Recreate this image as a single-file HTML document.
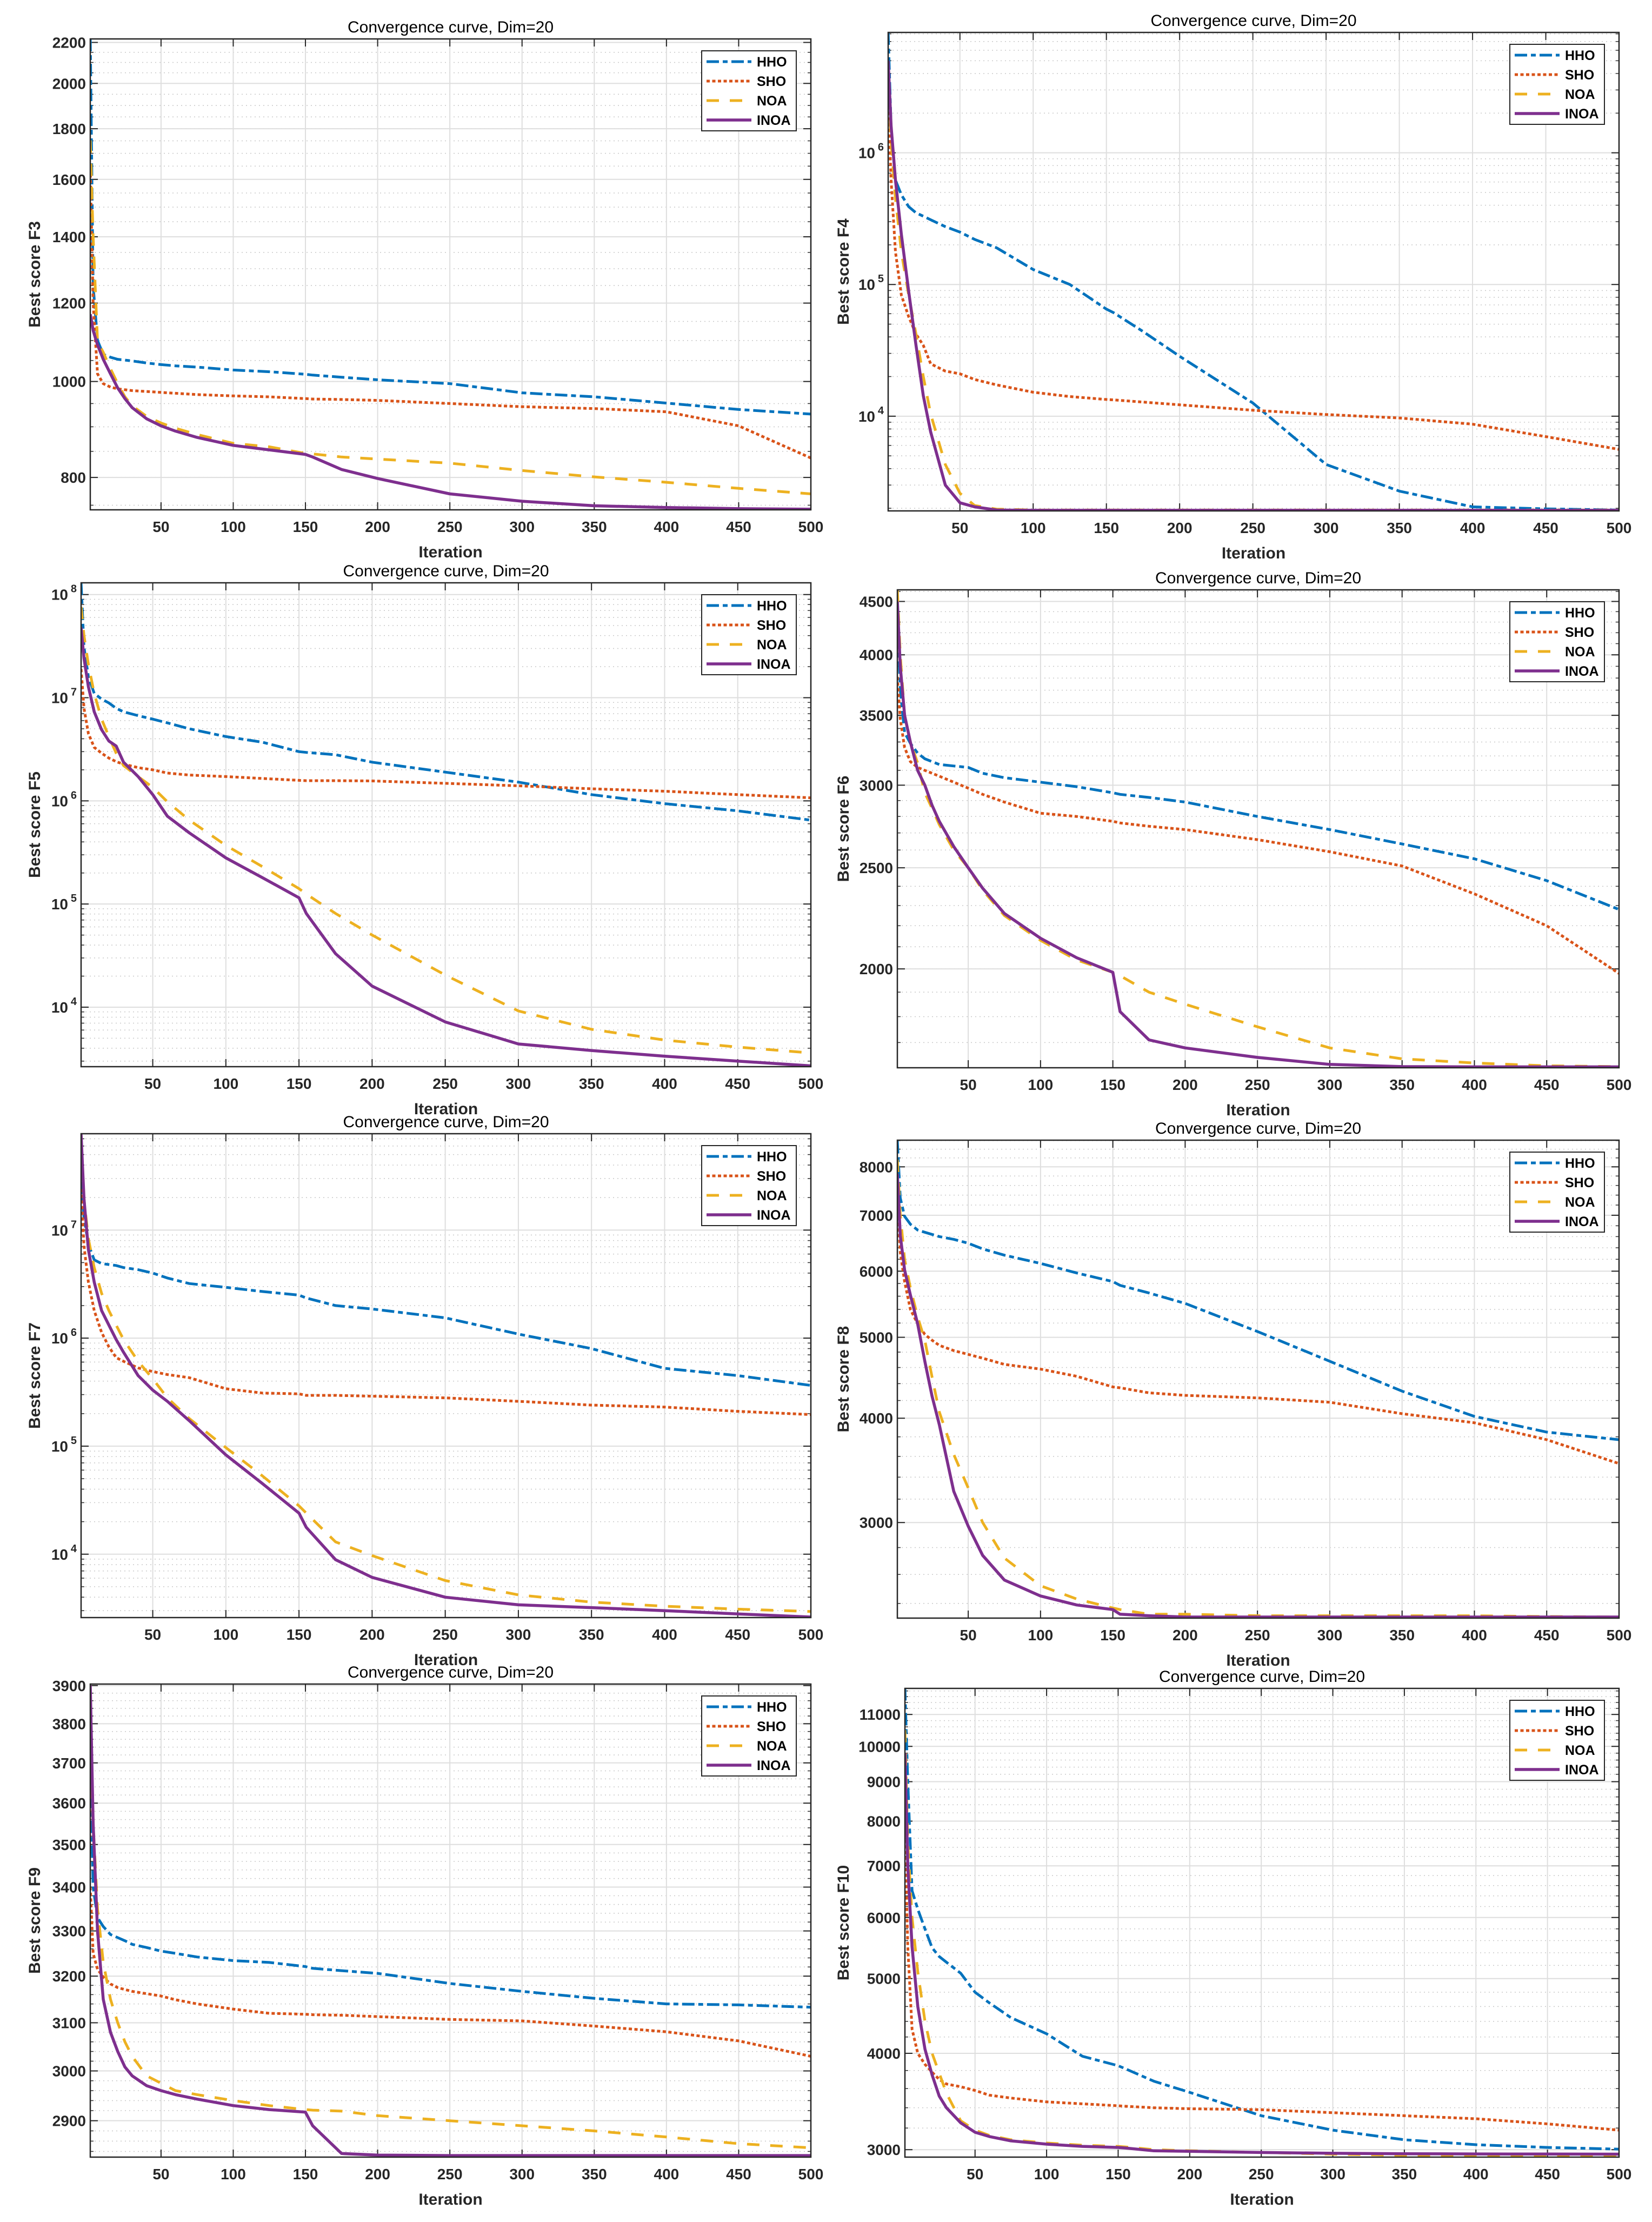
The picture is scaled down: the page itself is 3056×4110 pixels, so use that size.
<!DOCTYPE html>
<html><head><meta charset="utf-8">
<style>
html,body{margin:0;padding:0;background:#fff;}
svg{display:block;}
text{font-family:"Liberation Sans",Arial,sans-serif;}
</style></head>
<body>
<svg id="fig" xmlns="http://www.w3.org/2000/svg" width="3056" height="4110" viewBox="0 0 3056 4110"></svg>
<script>
// shared iteration grid
const iters = [1,3,6,10,15,20,25,30,40,50,60,75,100,125,150,155,175,200,250,300,350,400,450,500];
const seriesNames = ["HHO","SHO","NOA","INOA"];

// F3
const f3_hho = [2218,1250,1100,1065,1058,1053,1051,1049,1044,1040,1037,1034,1027,1023,1017,1015,1010,1004,995,974,965,951,937,927];
const f3_sho = [1640,1200,1018,995,987,983,981,979,977,975,973,970,967,965,961,960,959,957,950,943,939,932,902,837];
const f3_noa = [1752,1400,1098,1070,1030,995,965,945,922,908,897,884,866,859,846,845,839,835,827,813,801,791,780,770];
const f3_inoa = [1169,1126,1089,1053,1018,985,961,941,917,902,891,878,862,853,844,839,815,798,770,757,749,746,744,743];
const f3_ticks = [800,1000,1200,1400,1600,1800,2000,2200];
// F4
const f4_hho = [8.2e6,1.6e6,6.2e5,4.8e5,3.9e5,3.5e5,3.3e5,3.1e5,2.75e5,2.5e5,2.2e5,1.9e5,1.3e5,1.0e5,6.5e4,6.1e4,4.4e4,2.85e4,1.26e4,4.3e3,2.7e3,2.05e3,1.98e3,1.94e3];
const f4_sho = [2.5e6,6.2e5,1.77e5,8.3e4,5.7e4,4.2e4,3.45e4,2.5e4,2.2e4,2.1e4,1.9e4,1.73e4,1.52e4,1.41e4,1.34e4,1.33e4,1.28e4,1.22e4,1.11e4,1.03e4,9.7e3,8.7e3,7.0e3,5.6e3];
const f4_noa = [4e6,1.2e6,4.5e5,1.77e5,8.3e4,4.2e4,2.0e4,1.04e4,4.3e3,2.6e3,2.1e3,1.97e3,1.94e3,1.94e3,1.94e3,1.94e3,1.94e3,1.94e3,1.94e3,1.94e3,1.94e3,1.94e3,1.94e3,1.94e3];
const f4_inoa = [5e6,1.6e6,6.2e5,2.4e5,8.9e4,3.45e4,1.43e4,7.6e3,3.0e3,2.2e3,2.05e3,1.94e3,1.93e3,1.93e3,1.93e3,1.93e3,1.93e3,1.93e3,1.93e3,1.93e3,1.93e3,1.93e3,1.93e3,1.93e3];
const f4_ticks = [4,5,6];
// F5
const f5_hho = [1.3e8,3.1e7,1.6e7,1.1e7,9.7e6,8.9e6,7.9e6,7.3e6,6.7e6,6.2e6,5.7e6,5.0e6,4.2e6,3.7e6,3.0e6,2.95e6,2.8e6,2.37e6,1.9e6,1.52e6,1.15e6,9.4e5,8.0e5,6.5e5];
const f5_sho = [1.9e7,7.9e6,4.5e6,3.3e6,2.9e6,2.6e6,2.4e6,2.27e6,2.1e6,2.0e6,1.86e6,1.78e6,1.72e6,1.65e6,1.58e6,1.57e6,1.57e6,1.56e6,1.48e6,1.40e6,1.31e6,1.24e6,1.15e6,1.07e6];
const f5_noa = [7.6e7,4e7,2.1e7,1.1e7,6.2e6,4.2e6,2.9e6,2.2e6,1.72e6,1.35e6,9.8e5,6.5e5,3.7e5,2.3e5,1.41e5,1.25e5,8.1e4,5.0e4,2.05e4,9.2e3,6.1e3,4.8e3,4.1e3,3.6e3];
const f5_inoa = [4.8e7,2.4e7,1.28e7,7.3e6,4.9e6,3.8e6,3.4e6,2.37e6,1.72e6,1.15e6,7.1e5,4.9e5,2.8e5,1.8e5,1.15e5,8.1e4,3.3e4,1.6e4,7.2e3,4.4e3,3.8e3,3.35e3,3.0e3,2.7e3];
const f5_ticks = [4,5,6,7,8];
// F6
const f6_hho = [4400,3700,3370,3290,3220,3180,3160,3140,3130,3120,3080,3050,3020,2990,2950,2940,2920,2890,2800,2720,2635,2550,2430,2280];
const f6_sho = [3810,3470,3260,3160,3120,3100,3080,3060,3020,2980,2940,2890,2820,2800,2770,2760,2740,2720,2660,2590,2510,2360,2200,1980];
const f6_noa = [4620,4000,3500,3300,3150,2950,2850,2750,2600,2500,2380,2250,2130,2040,1985,1970,1900,1850,1760,1680,1640,1625,1615,1612];
const f6_inoa = [4500,3900,3500,3300,3100,3000,2870,2770,2620,2500,2390,2260,2140,2050,1985,1820,1710,1680,1645,1620,1612,1611,1611,1611];
const f6_ticks = [2000,2500,3000,3500,4000,4500];
// F7
const f7_hho = [2.8e7,1.3e7,7.4e6,5.3e6,4.9e6,4.8e6,4.7e6,4.5e6,4.3e6,4.0e6,3.6e6,3.2e6,2.95e6,2.7e6,2.5e6,2.35e6,2.0e6,1.86e6,1.54e6,1.09e6,8.0e5,5.25e5,4.5e5,3.65e5];
const f7_sho = [2.4e7,7.1e6,3.3e6,1.8e6,1.13e6,8.3e5,6.6e5,6.1e5,5.3e5,4.9e5,4.6e5,4.3e5,3.4e5,3.1e5,3.05e5,2.95e5,2.95e5,2.9e5,2.8e5,2.6e5,2.4e5,2.3e5,2.1e5,1.96e5];
const f7_noa = [6.1e7,1.94e7,8.3e6,4.5e6,2.6e6,1.8e6,1.32e6,9.7e5,6.1e5,4.2e5,2.8e5,1.8e5,9.7e4,5.3e4,2.8e4,2.4e4,1.3e4,9.7e3,5.7e3,4.2e3,3.6e3,3.3e3,3.1e3,2.95e3];
const f7_inoa = [7.7e7,1.94e7,6.6e6,3.3e6,1.8e6,1.32e6,9.7e5,7.4e5,4.5e5,3.3e5,2.6e5,1.72e5,8.3e4,4.5e4,2.4e4,1.77e4,8.9e3,6.1e3,4.0e3,3.4e3,3.2e3,3.0e3,2.8e3,2.62e3];
const f7_ticks = [4,5,6,7];
// F8
const f8_hho = [8590,7340,6980,6830,6720,6680,6640,6600,6550,6480,6380,6270,6130,5970,5830,5770,5650,5490,5080,4680,4310,4020,3850,3770];
const f8_sho = [7300,6320,5830,5400,5190,5040,4960,4890,4820,4770,4720,4640,4580,4490,4360,4350,4290,4260,4230,4180,4050,3950,3770,3530];
const f8_noa = [8160,7010,6200,5730,5290,4960,4480,4070,3620,3300,3000,2720,2520,2430,2370,2360,2330,2330,2320,2320,2320,2320,2315,2312];
const f8_inoa = [7850,6620,6020,5620,5190,4680,4250,3930,3270,2970,2740,2560,2450,2390,2360,2330,2320,2312,2312,2312,2312,2312,2312,2312];
const f8_ticks = [3000,4000,5000,6000,7000,8000];
// F9
const f9_hho = [3680,3400,3330,3310,3292,3285,3278,3270,3263,3255,3250,3242,3234,3230,3221,3217,3212,3206,3184,3167,3152,3140,3138,3133];
const f9_sho = [3400,3250,3215,3198,3183,3175,3171,3167,3162,3157,3149,3140,3129,3120,3118,3117,3116,3113,3107,3104,3093,3081,3062,3030];
const f9_noa = [3700,3550,3350,3230,3150,3100,3060,3030,2990,2975,2960,2952,2940,2930,2922,2921,2919,2910,2900,2890,2880,2868,2855,2847];
const f9_inoa = [3900,3550,3300,3150,3080,3040,3008,2990,2970,2960,2952,2943,2930,2922,2917,2890,2836,2833,2832,2832,2832,2832,2832,2832];
const f9_ticks = [2900,3000,3100,3200,3300,3400,3500,3600,3700,3800,3900];
// F10
const f10_hho = [11900,9000,6500,6150,5800,5480,5340,5250,5080,4800,4650,4450,4240,3965,3855,3820,3680,3560,3320,3180,3090,3045,3020,3005];
const f10_sho = [7700,5500,4300,4000,3870,3780,3700,3650,3620,3580,3530,3500,3460,3440,3420,3415,3400,3390,3380,3350,3320,3290,3240,3180];
const f10_noa = [10500,7500,6000,5100,4400,4000,3770,3550,3270,3180,3130,3090,3060,3040,3030,3025,3000,2990,2975,2960,2950,2945,2940,2937];
const f10_inoa = [9800,7000,5500,4600,4050,3750,3520,3400,3250,3160,3120,3080,3050,3030,3020,3015,2990,2985,2975,2968,2964,2962,2961,2960];
const f10_ticks = [3000,4000,5000,6000,7000,8000,9000,10000,11000];

const xTicks = [50,100,150,200,250,300,350,400,450,500];
const colors = {HHO:"#0072BD",SHO:"#D95319",NOA:"#EDB120",INOA:"#7E2F8E"};
const dashes = {HHO:"23 7 9 7",SHO:"6 4.5",NOA:"23 20",INOA:""};

const panels = [
 {id:"f3",label:"Best score F3",L:167,R:1500,T:72,B:943,ymin:742,ymax:2218,ticks:f3_ticks,dec:false,minor:50,data:[f3_hho,f3_sho,f3_noa,f3_inoa],ylx:64},
 {id:"f4",label:"Best score F4",L:1643,R:2995,T:60,B:945,ymin:1910,ymax:8.2e6,ticks:f4_ticks,dec:true,data:[f4_hho,f4_sho,f4_noa,f4_inoa],ylx:1560},
 {id:"f5",label:"Best score F5",L:150,R:1500,T:1078,B:1973,ymin:2650,ymax:1.3e8,ticks:f5_ticks,dec:true,data:[f5_hho,f5_sho,f5_noa,f5_inoa],ylx:64},
 {id:"f6",label:"Best score F6",L:1660,R:2995,T:1091,B:1975,ymin:1608,ymax:4617,ticks:f6_ticks,dec:false,minor:100,data:[f6_hho,f6_sho,f6_noa,f6_inoa],ylx:1560},
 {id:"f7",label:"Best score F7",L:150,R:1500,T:2097,B:2992,ymin:2590,ymax:7.8e7,ticks:f7_ticks,dec:true,data:[f7_hho,f7_sho,f7_noa,f7_inoa],ylx:64},
 {id:"f8",label:"Best score F8",L:1660,R:2995,T:2109,B:2993,ymin:2305,ymax:8610,ticks:f8_ticks,dec:false,minor:200,data:[f8_hho,f8_sho,f8_noa,f8_inoa],ylx:1560},
 {id:"f9",label:"Best score F9",L:167,R:1500,T:3115,B:3990,ymin:2829,ymax:3904,ticks:f9_ticks,dec:false,minor:20,data:[f9_hho,f9_sho,f9_noa,f9_inoa],ylx:64},
 {id:"f10",label:"Best score F10",L:1674,R:2995,T:3123,B:3990,ymin:2934,ymax:11890,ticks:f10_ticks,dec:false,minor:200,data:[f10_hho,f10_sho,f10_noa,f10_inoa],ylx:1560}
];

const NS = "http://www.w3.org/2000/svg";
const fig = document.getElementById("fig");
function mk(tag, attrs, parent){
  const e = document.createElementNS(NS, tag);
  for (const k in attrs) e.setAttribute(k, attrs[k]);
  (parent||fig).appendChild(e);
  return e;
}

panels.forEach(function(p){
  const g = mk("g", {});
  
  
  const lmin = Math.log10(p.ymin), lmax = Math.log10(p.ymax);
  const xs = function(i){ return p.L + (i-1)/499*(p.R-p.L); };
  const ys = function(v){ return p.B - (Math.log10(v)-lmin)/(lmax-lmin)*(p.B-p.T); };
  mk("rect",{x:p.L,y:p.T,width:p.R-p.L,height:p.B-p.T,fill:"#fff"},g);

  const minorVals = [];
  if (p.dec) {
    for (let e = Math.floor(lmin); e <= Math.ceil(lmax); e++)
      for (let m = 2; m <= 9; m++) minorVals.push(m*Math.pow(10,e));
  } else {
    for (let v = Math.ceil(p.ymin/p.minor)*p.minor; v <= p.ymax; v += p.minor) minorVals.push(v);
  }
  minorVals.forEach(function(v){
    if (v <= p.ymin || v >= p.ymax) return;
    const y = ys(v);
    const ln = mk("line",{x1:p.L,x2:p.R,y1:y,y2:y,stroke:"#c8c8c8","stroke-width":1.5,"stroke-dasharray":"2 6"},g);
    
    
    mk("line",{x1:p.L,x2:p.L+6,y1:y,y2:y,stroke:"#333","stroke-width":1.5},g);
    mk("line",{x1:p.R,x2:p.R-6,y1:y,y2:y,stroke:"#333","stroke-width":1.5},g);
  });
  p.ticks.forEach(function(t){
    const v = p.dec ? Math.pow(10,t) : t;
    const y = ys(v);
    const gl = mk("line",{x1:p.L,x2:p.R,y1:y,y2:y,stroke:"#dedede","stroke-width":2},g);
    
    
    mk("line",{x1:p.L,x2:p.L+14,y1:y,y2:y,stroke:"#262626","stroke-width":2},g);
    mk("line",{x1:p.R,x2:p.R-14,y1:y,y2:y,stroke:"#262626","stroke-width":2},g);
    const tx = mk("text",{x:p.L-8,y:y+10,"text-anchor":"end","font-size":28,"font-weight":"bold",fill:"#262626"},g);
    
    
    if (p.dec) {
      tx.setAttribute("x", p.L-24);
      tx.textContent = "10";
      const sup = mk("text",{x:p.L-8,y:y-4,"text-anchor":"end","font-size":20,"font-weight":"bold",fill:"#262626"},g);
      sup.textContent = String(t);
      
      
    } else {
      tx.textContent = String(t);
    }
  });
  xTicks.forEach(function(t){
    const x = xs(t);
    const gl = mk("line",{x1:x,x2:x,y1:p.T,y2:p.B,stroke:"#dedede","stroke-width":2},g);
    
    
    mk("line",{x1:x,x2:x,y1:p.B,y2:p.B-14,stroke:"#262626","stroke-width":2},g);
    mk("line",{x1:x,x2:x,y1:p.T,y2:p.T+14,stroke:"#262626","stroke-width":2},g);
    const tx = mk("text",{x:x,y:p.B+41,"text-anchor":"middle","font-size":28,"font-weight":"bold",fill:"#262626"},g);
    tx.textContent = String(t);
    
    
  });
  const clipId = "clip-" + p.id;
  const cp = mk("clipPath",{id:clipId},g);
  mk("rect",{x:p.L,y:p.T-3,width:p.R-p.L,height:p.B-p.T+3},cp);
  const sg = mk("g",{"clip-path":"url(#"+clipId+")"},g);
  p.data.forEach(function(arr, si){
    const nm = seriesNames[si];
    const pts = arr.map(function(v,k){ return xs(iters[k]).toFixed(1)+","+ys(v).toFixed(1); }).join(" ");
    const pl = mk("polyline",{points:pts,fill:"none",stroke:colors[nm],"stroke-width":nm==="INOA"?5.5:5,"stroke-linejoin":"round"},sg);
    if (dashes[nm]) pl.setAttribute("stroke-dasharray", dashes[nm]);
    
    
  });
  const box = mk("rect",{x:p.L,y:p.T,width:p.R-p.L,height:p.B-p.T,fill:"none",stroke:"#262626","stroke-width":2.5},g);
  
  
  const ti = mk("text",{x:(p.L+p.R)/2,y:p.T-12,"text-anchor":"middle","font-size":30,fill:"#000"},g);
  ti.textContent = "Convergence curve, Dim=20";
  
  
  const xl = mk("text",{x:(p.L+p.R)/2,y:p.B+88,"text-anchor":"middle","font-size":30,"font-weight":"bold",fill:"#262626"},g);
  xl.textContent = "Iteration";
  
  
  const yc = (p.T+p.B)/2;
  const yl = mk("text",{x:p.ylx,y:yc,"text-anchor":"middle","font-size":30,"font-weight":"bold",fill:"#262626",transform:"rotate(-90 "+(p.ylx)+" "+yc+")",dy:"10"},g);
  yl.textContent = p.label;
  
  
  const lx = p.R-202, ly = p.T+22;
  const lg = mk("g",{},g);
  
  
  mk("rect",{x:lx,y:ly,width:175,height:148,fill:"#fff",stroke:"#262626","stroke-width":2},lg);
  seriesNames.forEach(function(nm, k){
    const ey = ly + 20 + k*36;
    const ent = mk("g",{},lg);
    
    
    const sl = mk("line",{x1:lx+9,x2:lx+92,y1:ey,y2:ey,stroke:colors[nm],"stroke-width":nm==="INOA"?5.5:5},ent);
    if (dashes[nm]) sl.setAttribute("stroke-dasharray", dashes[nm]);
    const lt = mk("text",{x:lx+102,y:ey+9,"font-size":25,"font-weight":"bold",fill:"#000"},ent);
    lt.textContent = nm;
  });
});
</script>
</body></html>
